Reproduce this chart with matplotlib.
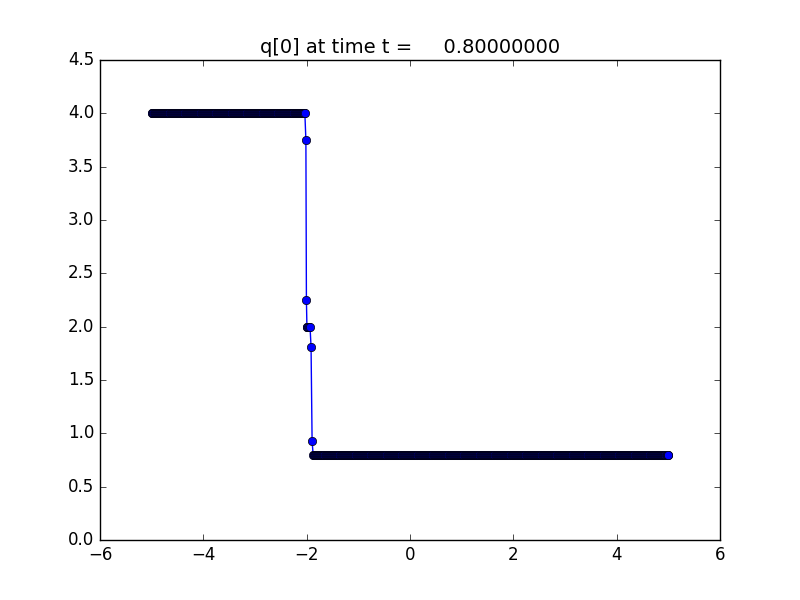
import numpy as np
import matplotlib
matplotlib.use("Agg")
import matplotlib.pyplot as plt

plt.style.use("classic")

# cell centres on a uniform grid, dx = 0.01
dx = 0.01
x_left_start, x_left_end = -4.995, -2.045   # q = 4.0 region
x_right_start, x_right_end = -1.875, 4.995  # q = 0.8 region
q_left = 4.0
q_right = 0.8

# the few cells through the shock / contact
x_mid = [-2.035, -2.015, -2.005, -1.995, -1.985, -1.975, -1.955, -1.935,
         -1.915, -1.895]
q_mid = [4.0, 3.75, 2.25, 2.0, 2.0, 2.0, 2.0, 2.0, 1.81, 0.93]

n_left = int(round((x_left_end - x_left_start) / dx)) + 1
n_right = int(round((x_right_end - x_right_start) / dx)) + 1
x_l = x_left_start + dx * np.arange(n_left)
x_r = x_right_start + dx * np.arange(n_right)

x = np.concatenate([x_l, x_mid, x_r])
q = np.concatenate([np.full(n_left, q_left), q_mid, np.full(n_right, q_right)])

fig = plt.figure(figsize=(8, 6), dpi=100)
ax = fig.add_subplot(111)
ax.plot(x, q, "b-o", linewidth=1, markersize=6, markeredgecolor="k",
        markeredgewidth=0.5)

ax.set_xlim(-6, 6)
ax.set_ylim(0, 4.5)
ax.set_xticks(np.arange(-6, 7, 2))
ax.set_yticks(np.arange(0, 4.51, 0.5))
ax.set_title("q[0] at time t =     0.80000000", fontsize=14)

fig.savefig("out.png", dpi=100, facecolor="white")
